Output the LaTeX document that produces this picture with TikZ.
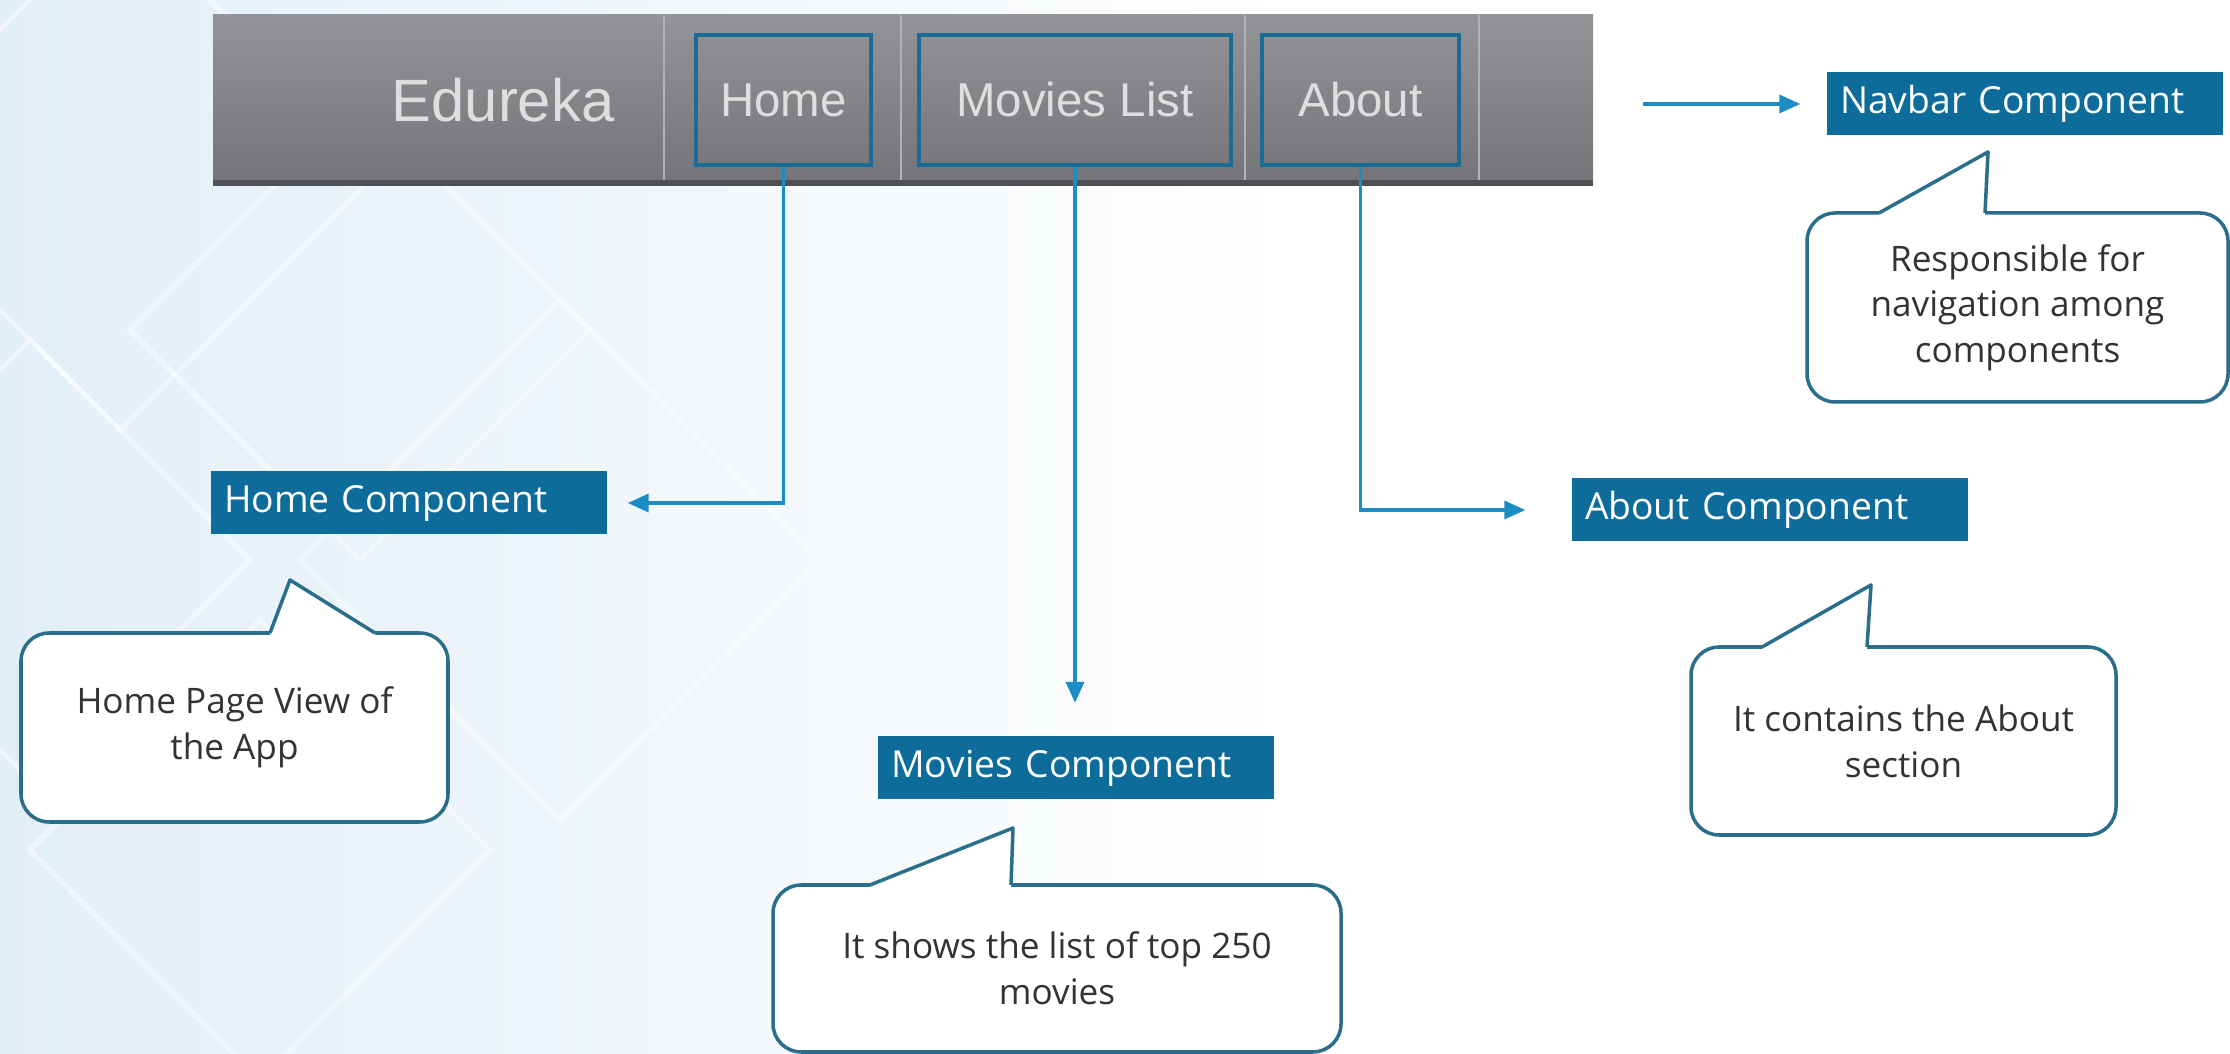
\documentclass[tikz,border=0pt]{standalone}
\usepackage{fontspec}
\setmainfont{Open Sans}
\newfontfamily\navfont{Liberation Sans}
\usepackage{tikz}
\usetikzlibrary{arrows.meta,positioning,calc}

\definecolor{compblue}{HTML}{0E6C9B}
\definecolor{linkblue}{HTML}{1C8CC4}
\definecolor{noteline}{HTML}{2A6E8C}
\definecolor{boxblue}{HTML}{1B6C93}
\definecolor{navtop}{HTML}{929498}
\definecolor{navbot}{HTML}{737579}
\definecolor{navdark}{HTML}{4E5054}
\definecolor{navtext}{HTML}{DEDEDE}
\definecolor{bgblue}{HTML}{E2EEF6}

\tikzset{
  comp/.style={fill=compblue, text=white, font=\fontsize{10.6}{13}\selectfont,
    text width=37mm, inner xsep=1.3mm, minimum height=6.3mm, align=left},
  note/.style={draw=noteline, line width=1pt, fill=white, rounded corners=8pt,
    inner sep=0pt, align=center, text=black!80, font=\fontsize{10}{13}\selectfont},
  navitem/.style={text=navtext, font=\navfont\fontsize{13.5}{16}\selectfont},
  navbox/.style={navitem, draw=boxblue, line width=1.3pt, inner sep=0pt, minimum height=13mm},
  link/.style={draw=linkblue, line width=1pt, -{Triangle[length=2.1mm,width=1.8mm]}},
  tip/.style={draw=noteline, line width=1pt, line join=round},
}

\begin{document}
\begin{tikzpicture}[x=0.1mm, y=-0.1mm]
        \useasboundingbox (0,0) rectangle (2230,1054);
        % background
        \fill[white] (0,0) rectangle (2230,1054);
        \shade[left color=bgblue, right color=white] (0,0) rectangle (1300,1054);
        \foreach \cx/\cy/\r in {120/170/260, 360/330/230, 30/560/220, 560/560/260, 260/850/230}
            \draw[white, line width=1.5pt, opacity=.45] (\cx-\r,\cy) -- (\cx,\cy-\r) -- (\cx+\r,\cy) -- (\cx,\cy+\r) -- cycle;

        % navbar
        \shade[top color=navtop, bottom color=navbot] (213,15) rectangle (1593,180);
        \fill[navdark] (213,180) rectangle (1593,186);
        \foreach \x in {664,901,1245,1479}
            \draw[black!30, line width=0.6pt] (\x,15) -- (\x,180);
        \node[navitem, font=\navfont\fontsize{17}{20}\selectfont] (brand) at (503,100) {Edureka};
        \node[navbox, minimum width=17.5mm] (homeBox) at (783.5,100) {Home};
        \node[navbox, minimum width=31.2mm] (moviesBox) at (1075,100) {Movies List};
        \node[navbox, minimum width=19.7mm] (aboutBox) at (1360.5,100) {About};

        % components
        \node[comp] (navLbl) at (2025,104) {Navbar Component};
        \node[comp] (homeLbl) at (409,503) {Home Component};
        \node[comp] (moviesLbl) at (1076,768) {Movies Component};
        \node[comp] (aboutLbl) at (1770,510) {About Component};

        \coordinate (navStart) at (1643,104);
        \draw[link, shorten >=2.6mm] (navStart) -- (navLbl);
        \draw[link, shorten >=2mm] (homeBox.south) |- (homeLbl);
        \draw[link, shorten >=3.3mm] (moviesBox.south) -- (moviesBox.south |- moviesLbl.north);
        \draw[link, shorten >=4.6mm] (aboutBox.south) |- (aboutLbl);

        % notes
        \node[note, minimum width=42.1mm, minimum height=18.9mm] (navNote) at (2017.5,307.5)
            {Responsible for\\navigation among\\components};
        \node[note, minimum width=42.7mm, minimum height=18.9mm] (homeNote) at (234.5,727.5)
            {Home Page View of\\the App};
        \node[note, minimum width=56.8mm, minimum height=16.7mm] (moviesNote) at (1057,968.5)
            {It shows the list of top 250\\movies};
        \node[note, minimum width=42.5mm, minimum height=18.8mm] (aboutNote) at (1903.5,741)
            {It contains the About\\section};

        \fill[white] (1881,218) -- (1879,213) -- (1988,152) -- (1985,213) -- (1985,218) -- cycle;
        \draw[tip] (1879,213) -- (1988,152) -- (1985,213);
        \fill[white] (271,638) -- (270,633) -- (290,580) -- (375,633) -- (375,638) -- cycle;
        \draw[tip] (270,633) -- (290,580) -- (375,633);
        \fill[white] (872,890) -- (870,885) -- (1013,828) -- (1011,885) -- (1011,890) -- cycle;
        \draw[tip] (870,885) -- (1013,828) -- (1011,885);
        \fill[white] (1764,652) -- (1762,647) -- (1871,585) -- (1867,647) -- (1867,652) -- cycle;
        \draw[tip] (1762,647) -- (1871,585) -- (1867,647);
    \end{tikzpicture}
\end{document}
